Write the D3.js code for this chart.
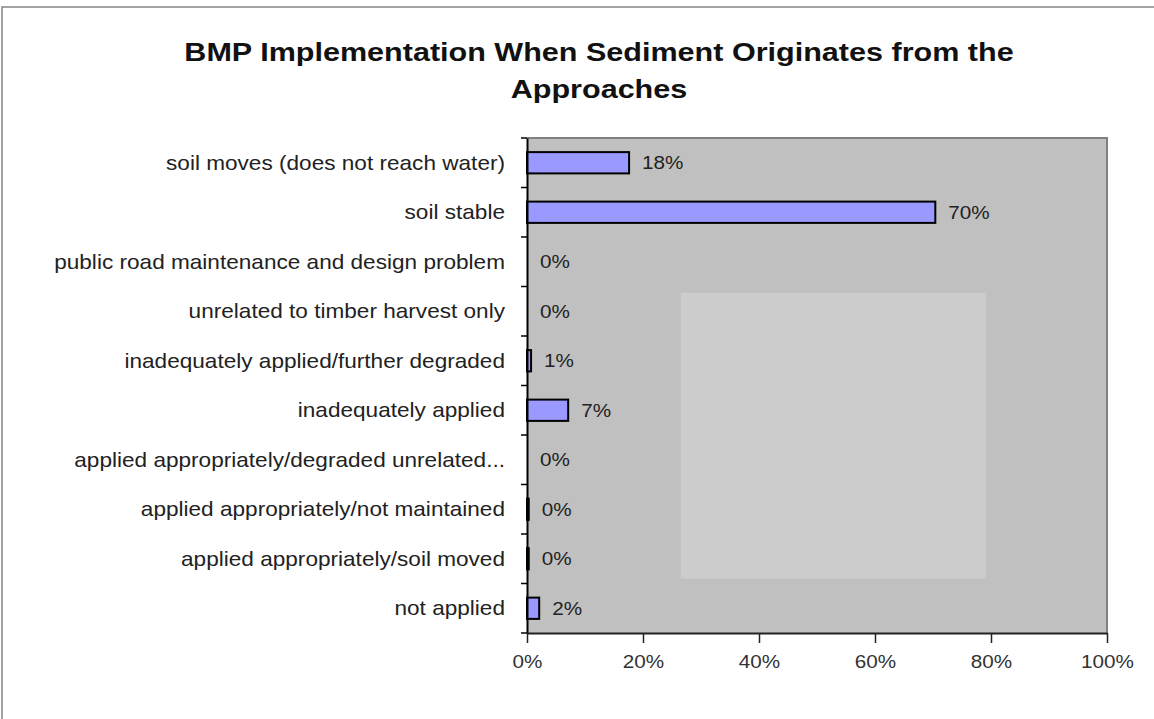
<!DOCTYPE html>
<html>
<head>
<meta charset="utf-8">
<script src="https://cdn.jsdelivr.net/npm/d3@7"></script>
<style>
  html, body { margin: 0; padding: 0; background: #ffffff; }
  svg { display: block; font-family: Arial, "Liberation Sans", sans-serif; }
</style>
</head>
<body>
<svg id="chart" width="1154" height="719"></svg>
<script>
// ---- data ----
const titleLines = ["BMP Implementation When Sediment Originates from the", "Approaches"];
const categories = [
  "soil moves (does not reach water)",
  "soil stable",
  "public road maintenance and design problem",
  "unrelated to timber harvest only",
  "inadequately applied/further degraded",
  "inadequately applied",
  "applied appropriately/degraded unrelated...",
  "applied appropriately/not maintained",
  "applied appropriately/soil moved",
  "not applied"
];
const values = [17.6, 70.4, 0, 0, 0.7, 7.1, 0, 0.3, 0.3, 2.1];
const xTicks = [0, 20, 40, 60, 80, 100];

// ---- layout ----
const W = 1154, H = 719;
const plot = { left: 527, right: 1107, top: 138, bottom: 633 };

const svg = d3.select("#chart");

// outer frame (top & left visible)
svg.append("path")
  .attr("d", `M2,${H} L2,7 L${W},7`)
  .attr("fill", "none").attr("stroke", "#858585").attr("stroke-width", 1.5);

// title
svg.selectAll("text.title").data(titleLines).enter().append("text")
  .attr("class", "title")
  .attr("transform", (d, i) => `translate(599,${61 + i * 37}) scale(1.175,1)`)
  .attr("text-anchor", "middle")
  .attr("font-size", 26).attr("font-weight", "bold").attr("fill", "#111")
  .text(d => d);

// scales
const x = d3.scaleLinear().domain([0, 100]).range([plot.left, plot.right]);
const y = d3.scaleBand().domain(categories).range([plot.top, plot.bottom])
  .paddingInner(0.57).paddingOuter(0.285);

// plot background
svg.append("rect")
  .attr("x", x(0)).attr("y", plot.top)
  .attr("width", x(100) - x(0)).attr("height", plot.bottom - plot.top)
  .attr("fill", "#c0c0c0");

// lighter patch inside plot (present in the source image)
const patchX = [26.5, 79.1];
const patchRows = [3.13, 8.9];
svg.append("rect")
  .attr("x", x(patchX[0]))
  .attr("y", plot.top + patchRows[0] * y.step())
  .attr("width", x(patchX[1]) - x(patchX[0]))
  .attr("height", (patchRows[1] - patchRows[0]) * y.step())
  .attr("fill", "#cccccc");

// plot border top/right
svg.append("path")
  .attr("d", `M${x(0)},${plot.top} L${x(100)},${plot.top} L${x(100)},${plot.bottom}`)
  .attr("fill", "none").attr("stroke", "#808080").attr("stroke-width", 2);

// bars
const data = categories.map((c, i) => ({ c, v: values[i] }));
svg.selectAll("rect.bar").data(data.filter(d => d.v > 0)).enter().append("rect")
  .attr("class", "bar")
  .attr("x", x(0))
  .attr("y", d => y(d.c))
  .attr("width", d => x(d.v) - x(0))
  .attr("height", y.bandwidth())
  .attr("fill", "#9999ff")
  .attr("stroke", "#000").attr("stroke-width", 2);

// value labels
svg.selectAll("text.val").data(data).enter().append("text")
  .attr("class", "val")
  .attr("transform", d => `translate(${x(d.v) + 13},${y(d.c) + y.bandwidth() / 2 + 6.5}) scale(1.15,1)`)
  .attr("font-size", 18).attr("fill", "#222")
  .text(d => Math.round(d.v) + "%");

// y axis
const yAxis = svg.append("g").attr("transform", `translate(${x(0)},0)`)
  .call(d3.axisLeft(y).tickSize(0).tickPadding(0));
yAxis.select(".domain").attr("stroke", "#000").attr("stroke-width", 2);
yAxis.selectAll(".tick text")
  .attr("x", 0).attr("dy", null).attr("y", 7)
  .attr("transform", `translate(-22,0) scale(1.13,1)`)
  .attr("font-size", 20).attr("fill", "#222")
  .attr("font-family", "Arial, 'Liberation Sans', sans-serif");
// boundary ticks
const bounds = d3.range(categories.length + 1).map(i => plot.top + i * y.step());
yAxis.selectAll("line.bt").data(bounds).enter().append("line")
  .attr("class", "bt")
  .attr("x1", -6).attr("x2", 0)
  .attr("y1", d => d).attr("y2", d => d)
  .attr("stroke", "#000").attr("stroke-width", 1.5);

// x axis
const xAxis = svg.append("g").attr("transform", `translate(0,${plot.bottom})`)
  .call(d3.axisBottom(x).tickValues(xTicks).tickFormat(d => d + "%")
    .tickSize(10).tickSizeOuter(0).tickPadding(0));
xAxis.select(".domain").attr("stroke", "#222").attr("stroke-width", 2);
xAxis.selectAll(".tick line").attr("stroke", "#222").attr("stroke-width", 1.5);
xAxis.selectAll(".tick text")
  .attr("y", 35).attr("dy", null)
  .attr("transform", `scale(1.15,1)`)
  .attr("font-size", 18).attr("fill", "#333")
  .attr("font-family", "Arial, 'Liberation Sans', sans-serif");
</script>
</body>
</html>
